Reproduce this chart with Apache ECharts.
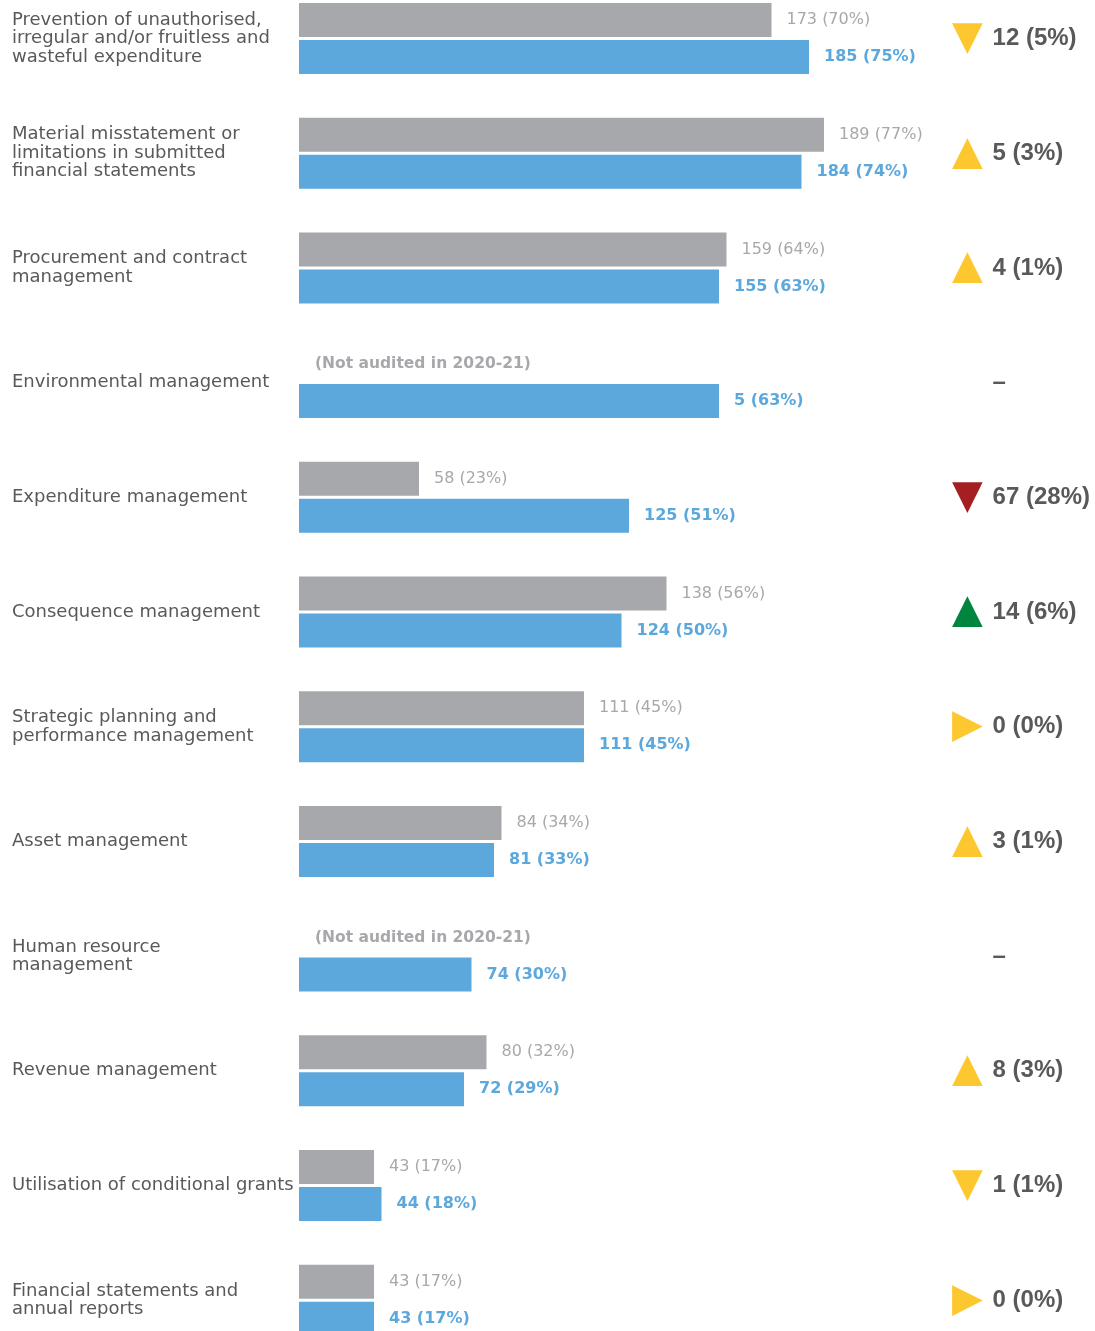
<!DOCTYPE html>
<html>
<head>
<meta charset="utf-8">
<script src="https://cdn.jsdelivr.net/npm/echarts@6/dist/echarts.min.js"></script>
<style>
  html, body { margin: 0; padding: 0; background: #fff; }
  #chart { width: 1095px; height: 1331px; }
</style>
</head>
<body>
<div id="chart"></div>
<script>
// audit areas, top to bottom
const categories = [
  'Prevention of unauthorised,\nirregular and/or fruitless and\nwasteful expenditure',
  'Material misstatement or\nlimitations in submitted\nfinancial statements',
  'Procurement and contract\nmanagement',
  'Environmental management',
  'Expenditure management',
  'Consequence management',
  'Strategic planning and\nperformance management',
  'Asset management',
  'Human resource\nmanagement',
  'Revenue management',
  'Utilisation of conditional grants',
  'Financial statements and\nannual reports'
];
// 2020-21 (grey) - null = not audited
const prevCount = [173, 189, 159, null, 58, 138, 111, 84, null, 80, 43, 43];
const prevPct   = [70, 77, 64, null, 23, 56, 45, 34, null, 32, 17, 17];
// 2021-22 (blue)
const currCount = [185, 184, 155, 5, 125, 124, 111, 81, 74, 72, 44, 43];
const currPct   = [75, 74, 63, 63, 51, 50, 45, 33, 30, 29, 18, 17];
// movement
const moveCount = [12, 5, 4, null, 67, 14, 0, 3, null, 8, 1, 0];
const movePct   = [5, 3, 1, null, 28, 6, 0, 1, null, 3, 1, 0];
const moveIcon  = ['downY', 'upY', 'upY', null, 'downR', 'upG', 'flat', 'upY', null, 'upY', 'downY', 'flat'];

const GREY = '#a7a8ab';
const BLUE = '#5ca8dc';
const TEXT = '#58595b';
const AXIS_MIN = 7;
const FONT = 'DejaVu Sans';

const glyph = { downY: '▼', downR: '▼', upY: '▲', upG: '▲', flat: '▶' };

let chart = echarts.init(document.getElementById('chart'));

let prevData = prevPct.map(function (v, i) {
  if (v === null) {
    return {
      value: AXIS_MIN,
      itemStyle: { color: 'rgba(0,0,0,0)' },
      label: { formatter: '(Not audited in 2020-21)', fontWeight: 'bold', fontSize: 15.5, distance: 16 }
    };
  }
  return v;
});

let iconStyle = function (c) {
  return { color: c, fontSize: 40, fontFamily: FONT };
};

let option = {
  animation: false,
  textStyle: { fontFamily: FONT },
  grid: {
    left: 299,
    width: 645,
    top: -18.85,
    height: 1376.4,
    containLabel: false,
    outerBoundsMode: 'none'
  },
  xAxis: {
    type: 'value',
    min: AXIS_MIN,
    max: 93,
    show: false
  },
  yAxis: [
    {
      type: 'category',
      inverse: true,
      data: categories,
      axisLine: { show: false },
      axisTick: { show: false },
      axisLabel: {
        margin: 287,
        align: 'left',
        color: TEXT,
        fontSize: 18,
        lineHeight: 18.5,
        padding: [4, 0, 0, 0],
        fontFamily: FONT
      }
    },
    {
      type: 'category',
      inverse: true,
      position: 'right',
      data: categories,
      axisLine: { show: false },
      axisTick: { show: false },
      axisLabel: {
        margin: 8,
        align: 'left',
        formatter: function (val, i) {
          if (moveIcon[i] === null) {
            return '{none|▼} {t|–}';
          }
          return '{' + moveIcon[i] + '|' + glyph[moveIcon[i]] + '} {t|' + moveCount[i] + ' (' + movePct[i] + '%)}';
        },
        rich: {
          downY: iconStyle('#fdc82f'),
          upY: iconStyle('#fdc82f'),
          downR: iconStyle('#a51e22'),
          upG: iconStyle('#00853f'),
          flat: iconStyle('#fdc82f'),
          none: iconStyle('rgba(0,0,0,0)'),
          t: {
            color: TEXT,
            fontSize: 24,
            fontWeight: 'bold',
            fontFamily: 'Liberation Sans',
            padding: [0, 0, 0, 6]
          }
        }
      }
    }
  ],
  series: [
    {
      name: '2020-21',
      type: 'bar',
      barWidth: 34,
      barGap: '8.8%',
      itemStyle: { color: GREY },
      label: {
        show: true,
        position: 'right',
        distance: 15,
        color: GREY,
        fontSize: 16,
        fontFamily: FONT,
        formatter: function (p) {
          return prevCount[p.dataIndex] + ' (' + prevPct[p.dataIndex] + '%)';
        }
      },
      data: prevData
    },
    {
      name: '2021-22',
      type: 'bar',
      barWidth: 34,
      barGap: '8.8%',
      itemStyle: { color: BLUE },
      label: {
        show: true,
        position: 'right',
        distance: 15,
        color: BLUE,
        fontSize: 16,
        fontWeight: 'bold',
        fontFamily: FONT,
        formatter: function (p) {
          return currCount[p.dataIndex] + ' (' + currPct[p.dataIndex] + '%)';
        }
      },
      data: currPct
    }
  ]
};

chart.setOption(option);
</script>
</body>
</html>
